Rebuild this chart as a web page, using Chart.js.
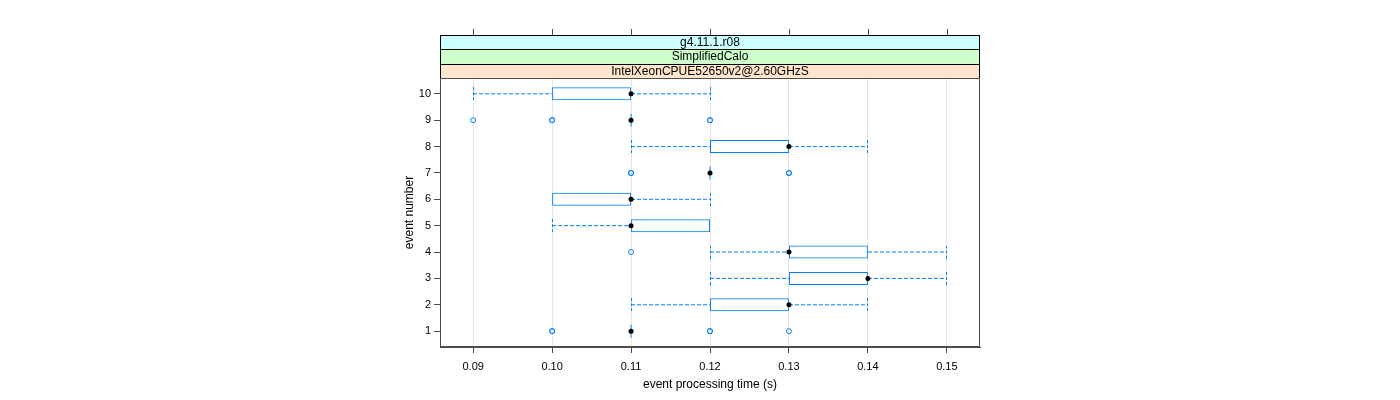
<!DOCTYPE html>
<html>
<head>
<meta charset="utf-8">
<script src="https://cdn.jsdelivr.net/npm/chart.js@4.4.0/dist/chart.umd.min.js"></script>
<style>
  html, body { margin: 0; padding: 0; background: #fff; }
  canvas { display: block; }
</style>
</head>
<body>
<canvas id="chart" width="1400" height="400"></canvas>
<script>
// event number on the y axis
const events = [1, 2, 3, 4, 5, 6, 7, 8, 9, 10];
// box statistics per event (seconds)
const whiskerLo = [0.11, 0.11, 0.12, 0.12, 0.10, 0.10, 0.12, 0.11, 0.11, 0.09];
const lowerQ    = [0.11, 0.12, 0.13, 0.13, 0.11, 0.10, 0.12, 0.12, 0.11, 0.10];
const medians   = [0.11, 0.13, 0.14, 0.13, 0.11, 0.11, 0.12, 0.13, 0.11, 0.11];
const upperQ    = [0.11, 0.13, 0.14, 0.14, 0.12, 0.11, 0.12, 0.13, 0.11, 0.11];
const whiskerHi = [0.11, 0.14, 0.15, 0.15, 0.12, 0.12, 0.12, 0.14, 0.11, 0.12];
// outliers, repeated values overplot each other
const outlierEvents = [1, 1, 1, 1, 1, 4, 7, 7, 7, 7, 9, 9, 9, 9, 9];
const outlierTimes  = [0.10, 0.10, 0.12, 0.12, 0.13, 0.11, 0.11, 0.11, 0.13, 0.13, 0.09, 0.10, 0.10, 0.12, 0.12];

const xTicks = [0.09, 0.10, 0.11, 0.12, 0.13, 0.14, 0.15];
const yTicks = [1, 2, 3, 4, 5, 6, 7, 8, 9, 10];
const stripLabels = ['IntelXeonCPUE52650v2@2.60GHzS', 'SimplifiedCalo', 'g4.11.1.r08'];
const stripColors = ['#ffe5cc', '#ccffcc', '#ccffff'];

const BLUE = '#0080ff';
const AXIS = '#4d4d4d';

Chart.defaults.font.family = '"Liberation Sans", Arial, sans-serif';
Chart.defaults.color = '#000';

// dashed vertical cap used at the whisker ends
const cap = document.createElement('canvas');
cap.width = 1;
cap.height = 13;
const capCtx = cap.getContext('2d');
capCtx.fillStyle = BLUE;
[0, 5, 10].forEach(y => capCtx.fillRect(0, y, 1, 3));

// build datasets
const boxData = events.map((e, i) => ({ x: [lowerQ[i], upperQ[i]], y: e }));
const medianData = events.map((e, i) => ({ x: medians[i], y: e }));
const flatData = [];
events.forEach((e, i) => {
    if (lowerQ[i] === upperQ[i]) flatData.push({ x: medians[i], y: e });
});

const whiskerData = [];
const capData = [];
events.forEach((e, i) => {
    if (whiskerLo[i] < lowerQ[i]) {
        whiskerData.push({ x: whiskerLo[i], y: e }, { x: lowerQ[i], y: e }, { x: null, y: null });
        capData.push({ x: whiskerLo[i], y: e });
    }
    if (whiskerHi[i] > upperQ[i]) {
        whiskerData.push({ x: upperQ[i], y: e }, { x: whiskerHi[i], y: e }, { x: null, y: null });
        capData.push({ x: whiskerHi[i], y: e });
    }
});
const outlierData = outlierEvents.map((e, i) => ({ x: outlierTimes[i], y: e }));

// strips above the panel, panel frame and top ticks
const latticePlugin = {
    id: 'lattice',
    afterDraw(chart) {
        const c = chart.ctx;
        const a = chart.chartArea;
        const xs = chart.scales.x;
        const h = 14.33;
        const stripTop = Math.round(a.top - h * 3);
        c.save();
        stripLabels.forEach((label, i) => {
            const top = a.top - h * (i + 1);
            c.fillStyle = stripColors[i];
            c.fillRect(a.left, top, a.right - a.left, h);
            c.fillStyle = '#000';
            c.font = '12px "Liberation Sans", Arial, sans-serif';
            c.textAlign = 'center';
            c.textBaseline = 'middle';
            c.fillText(label, (a.left + a.right) / 2, top + h / 2 + 0.5);
        });
        c.strokeStyle = '#000';
        c.lineWidth = 1;
        c.beginPath();
        for (let i = 0; i <= 3; i++) {
            const y = Math.round(a.top - h * i) + 0.5;
            c.moveTo(a.left, y);
            c.lineTo(a.right, y);
        }
        c.moveTo(a.left + 0.5, stripTop);
        c.lineTo(a.left + 0.5, a.top);
        c.moveTo(a.right - 0.5, stripTop);
        c.lineTo(a.right - 0.5, a.top);
        c.stroke();
        c.strokeStyle = AXIS;
        c.beginPath();
        xTicks.forEach(v => {
            const px = Math.round(xs.getPixelForValue(v)) + 0.5;
            c.moveTo(px, stripTop);
            c.lineTo(px, stripTop - 6);
        });
        c.stroke();
        c.strokeRect(a.left + 0.5, a.top + 0.5, a.right - a.left - 1, a.bottom - a.top - 1);
        c.restore();
    }
};

new Chart(document.getElementById('chart'), {
    type: 'bar',
    data: {
        datasets: [
            {
                type: 'scatter',
                data: medianData,
                pointRadius: 2.5,
                pointBackgroundColor: '#000',
                pointBorderColor: '#000',
                pointBorderWidth: 0
            },
            {
                type: 'scatter',
                data: outlierData,
                pointRadius: 2.5,
                pointBackgroundColor: 'rgba(0,0,0,0)',
                pointBorderColor: BLUE,
                pointBorderWidth: 1
            },
            {
                type: 'scatter',
                data: flatData,
                pointStyle: 'line',
                rotation: 90,
                pointRadius: 6.5,
                pointBorderColor: BLUE,
                pointBorderWidth: 1
            },
            {
                type: 'scatter',
                data: capData,
                pointStyle: cap
            },
            {
                type: 'scatter',
                data: whiskerData,
                showLine: true,
                spanGaps: false,
                borderColor: BLUE,
                borderWidth: 1,
                borderDash: [4, 2],
                pointRadius: 0
            },
            {
                type: 'bar',
                data: boxData,
                backgroundColor: 'rgba(0,0,0,0)',
                borderColor: BLUE,
                borderWidth: 1,
                borderSkipped: false,
                inflateAmount: 0,
                barThickness: 13
            }
        ]
    },
    options: {
        indexAxis: 'y',
        responsive: false,
        animation: false,
        events: [],
        layout: { padding: { left: 398, right: 420, top: 78, bottom: 4 } },
        plugins: {
            legend: { display: false },
            tooltip: { enabled: false }
        },
        scales: {
            x: {
                type: 'linear',
                position: 'bottom',
                min: 0.0858,
                max: 0.1542,
                offset: false,
                afterBuildTicks: s => { s.ticks = xTicks.map(v => ({ value: v })); },
                afterFit: s => { s.height = 49; },
                ticks: {
                    font: { size: 11 },
                    padding: 7,
                    maxRotation: 0,
                    callback: v => v.toFixed(2)
                },
                grid: { color: '#e6e6e6', tickColor: AXIS, tickLength: 6, offset: false },
                border: { color: AXIS },
                title: {
                    display: true,
                    text: 'event processing time (s)',
                    font: { size: 12 },
                    padding: { top: 4, bottom: 4 }
                }
            },
            y: {
                type: 'linear',
                position: 'left',
                min: 0.4,
                max: 10.6,
                offset: false,
                afterBuildTicks: s => { s.ticks = yTicks.map(v => ({ value: v })); },
                afterFit: s => { s.width = 42; },
                ticks: { font: { size: 11 }, padding: 3 },
                grid: { drawOnChartArea: false, tickColor: AXIS, tickLength: 6, offset: false },
                border: { color: AXIS },
                title: {
                    display: true,
                    text: 'event number',
                    font: { size: 12 },
                    padding: { top: 4, bottom: 4 }
                }
            }
        }
    },
    plugins: [latticePlugin]
});
</script>
</body>
</html>
